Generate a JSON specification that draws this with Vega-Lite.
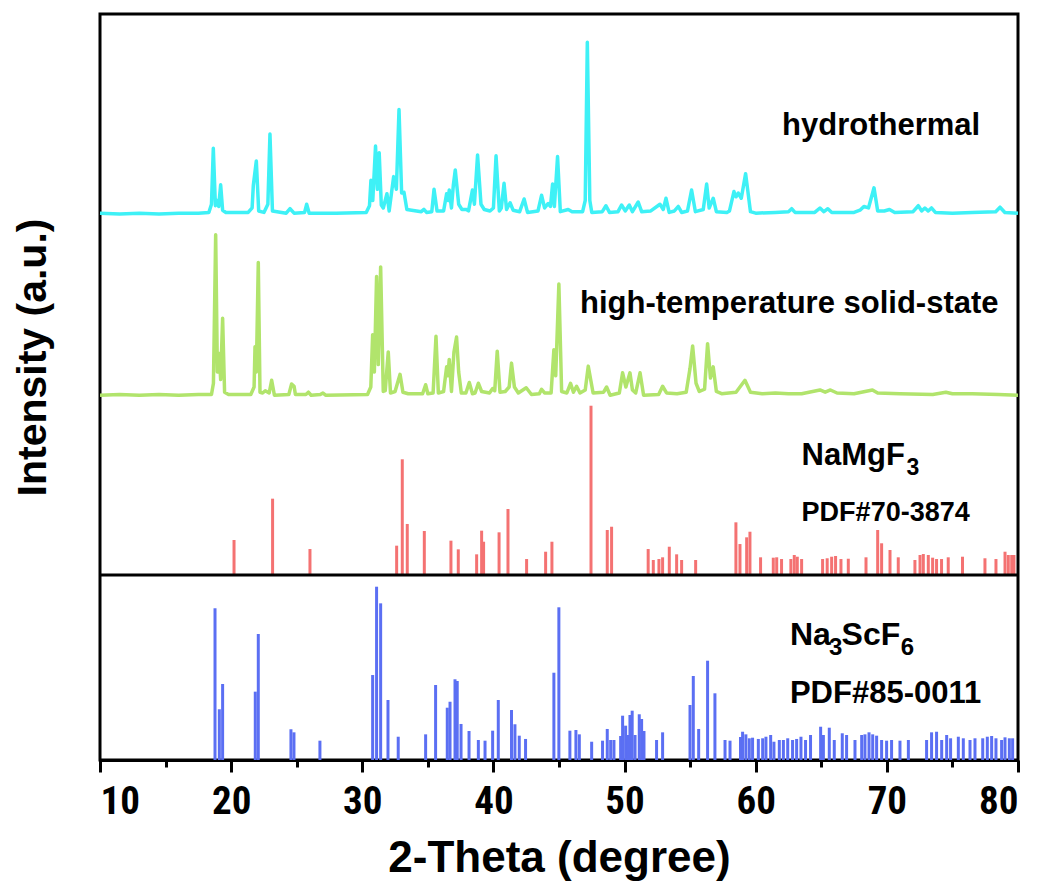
{
"$schema": "https://vega.github.io/schema/vega-lite/v6.json",
"width": 918, "height": 746,
"autosize": {"type": "none"},
"padding": {"left": 100, "top": 14, "right": 21, "bottom": 121},
"background": "white",
"config": {
  "view": {"stroke": "black", "strokeWidth": 3},
  "font": "Liberation Sans",
  "axis": {"grid": false, "domainColor": "black", "domainWidth": 3, "tickColor": "black", "tickWidth": 3, "labelColor": "black", "titleColor": "black"}
},
"datasets": {
"hydrothermal": [
{"two_theta":10.0,"intensity":73.3},{"two_theta":11.5,"intensity":73.2},{"two_theta":13.0,"intensity":73.3},{"two_theta":14.5,"intensity":73.2},{"two_theta":16.0,"intensity":73.3},{"two_theta":17.5,"intensity":73.3},{"two_theta":18.3,"intensity":73.4},{"two_theta":18.5,"intensity":74.5},{"two_theta":18.64,"intensity":82.0},{"two_theta":18.8,"intensity":74.3},{"two_theta":18.95,"intensity":75.0},{"two_theta":19.05,"intensity":74.2},{"two_theta":19.2,"intensity":77.1},{"two_theta":19.35,"intensity":73.7},{"two_theta":19.6,"intensity":73.4},{"two_theta":21.3,"intensity":73.4},{"two_theta":21.6,"intensity":74.0},{"two_theta":21.69,"intensity":77.0},{"two_theta":21.92,"intensity":80.3},{"two_theta":22.1,"intensity":73.6},{"two_theta":22.5,"intensity":73.4},{"two_theta":22.8,"intensity":74.5},{"two_theta":22.96,"intensity":83.9},{"two_theta":23.15,"intensity":73.6},{"two_theta":24.2,"intensity":73.3},{"two_theta":24.49,"intensity":73.9},{"two_theta":24.8,"intensity":73.3},{"two_theta":25.6,"intensity":73.4},{"two_theta":25.76,"intensity":74.5},{"two_theta":25.95,"intensity":73.3},{"two_theta":28.0,"intensity":73.3},{"two_theta":30.3,"intensity":73.4},{"two_theta":30.55,"intensity":74.3},{"two_theta":30.66,"intensity":77.7},{"two_theta":30.8,"intensity":75.0},{"two_theta":31.01,"intensity":82.3},{"two_theta":31.15,"intensity":76.5},{"two_theta":31.29,"intensity":81.4},{"two_theta":31.45,"intensity":74.4},{"two_theta":31.6,"intensity":74.0},{"two_theta":31.88,"intensity":75.9},{"two_theta":32.05,"intensity":73.6},{"two_theta":32.39,"intensity":78.2},{"two_theta":32.6,"intensity":76.5},{"two_theta":32.8,"intensity":87.2},{"two_theta":33.0,"intensity":76.0},{"two_theta":33.18,"intensity":76.1},{"two_theta":33.4,"intensity":73.8},{"two_theta":34.5,"intensity":73.5},{"two_theta":34.7,"intensity":73.8},{"two_theta":34.9,"intensity":73.4},{"two_theta":35.3,"intensity":73.5},{"two_theta":35.47,"intensity":76.5},{"two_theta":35.7,"intensity":73.6},{"two_theta":36.2,"intensity":73.6},{"two_theta":36.43,"intensity":75.9},{"two_theta":36.55,"intensity":75.0},{"two_theta":36.63,"intensity":76.4},{"two_theta":36.8,"intensity":74.0},{"two_theta":36.94,"intensity":77.0},{"two_theta":37.09,"intensity":79.1},{"two_theta":37.35,"intensity":74.5},{"two_theta":37.6,"intensity":73.8},{"two_theta":37.94,"intensity":73.8},{"two_theta":38.1,"intensity":73.6},{"two_theta":38.4,"intensity":76.4},{"two_theta":38.55,"intensity":74.5},{"two_theta":38.79,"intensity":81.1},{"two_theta":39.05,"intensity":74.5},{"two_theta":39.3,"intensity":73.8},{"two_theta":39.74,"intensity":73.6},{"two_theta":40.0,"intensity":74.0},{"two_theta":40.2,"intensity":81.0},{"two_theta":40.45,"intensity":73.6},{"two_theta":40.6,"intensity":74.0},{"two_theta":40.81,"intensity":77.3},{"two_theta":41.0,"intensity":73.8},{"two_theta":41.27,"intensity":74.7},{"two_theta":41.5,"intensity":73.7},{"two_theta":42.0,"intensity":73.5},{"two_theta":42.34,"intensity":75.2},{"two_theta":42.6,"intensity":73.4},{"two_theta":43.4,"intensity":73.6},{"two_theta":43.67,"intensity":75.7},{"two_theta":43.9,"intensity":74.0},{"two_theta":44.18,"intensity":74.6},{"two_theta":44.35,"intensity":74.2},{"two_theta":44.51,"intensity":77.2},{"two_theta":44.65,"intensity":74.2},{"two_theta":44.89,"intensity":80.9},{"two_theta":45.1,"intensity":73.5},{"two_theta":45.7,"intensity":73.8},{"two_theta":46.0,"intensity":73.5},{"two_theta":46.8,"intensity":73.5},{"two_theta":47.0,"intensity":75.0},{"two_theta":47.16,"intensity":96.2},{"two_theta":47.35,"intensity":75.0},{"two_theta":47.5,"intensity":73.4},{"two_theta":48.3,"intensity":73.5},{"two_theta":48.58,"intensity":74.3},{"two_theta":48.85,"intensity":73.4},{"two_theta":49.5,"intensity":73.5},{"two_theta":49.77,"intensity":74.4},{"two_theta":50.05,"intensity":73.6},{"two_theta":50.36,"intensity":74.4},{"two_theta":50.6,"intensity":73.5},{"two_theta":51.04,"intensity":74.8},{"two_theta":51.3,"intensity":73.5},{"two_theta":52.0,"intensity":73.6},{"two_theta":52.7,"intensity":74.5},{"two_theta":52.95,"intensity":73.8},{"two_theta":53.16,"intensity":75.3},{"two_theta":53.4,"intensity":73.4},{"two_theta":53.8,"intensity":73.6},{"two_theta":54.1,"intensity":74.2},{"two_theta":54.35,"intensity":73.4},{"two_theta":54.8,"intensity":73.6},{"two_theta":55.11,"intensity":76.4},{"two_theta":55.4,"intensity":73.5},{"two_theta":56.0,"intensity":73.8},{"two_theta":56.26,"intensity":77.2},{"two_theta":56.45,"intensity":74.0},{"two_theta":56.76,"intensity":75.3},{"two_theta":57.0,"intensity":73.5},{"two_theta":57.8,"intensity":73.4},{"two_theta":58.0,"intensity":73.6},{"two_theta":58.34,"intensity":76.2},{"two_theta":58.5,"intensity":75.5},{"two_theta":58.67,"intensity":76.0},{"two_theta":58.9,"intensity":75.3},{"two_theta":59.23,"intensity":78.6},{"two_theta":59.6,"intensity":73.5},{"two_theta":60.0,"intensity":73.3},{"two_theta":61.5,"intensity":73.4},{"two_theta":62.5,"intensity":73.5},{"two_theta":62.74,"intensity":73.9},{"two_theta":63.0,"intensity":73.4},{"two_theta":64.5,"intensity":73.4},{"two_theta":64.9,"intensity":74.0},{"two_theta":65.2,"intensity":73.5},{"two_theta":65.5,"intensity":73.9},{"two_theta":65.8,"intensity":73.4},{"two_theta":67.5,"intensity":73.4},{"two_theta":67.95,"intensity":73.7},{"two_theta":68.25,"intensity":74.2},{"two_theta":68.6,"intensity":74.0},{"two_theta":69.02,"intensity":76.7},{"two_theta":69.3,"intensity":73.6},{"two_theta":69.8,"intensity":73.6},{"two_theta":70.2,"intensity":73.8},{"two_theta":70.6,"intensity":73.4},{"two_theta":72.0,"intensity":73.5},{"two_theta":72.4,"intensity":74.3},{"two_theta":72.65,"intensity":73.6},{"two_theta":72.9,"intensity":74.0},{"two_theta":73.15,"intensity":73.6},{"two_theta":73.4,"intensity":74.0},{"two_theta":73.7,"intensity":73.4},{"two_theta":75.0,"intensity":73.3},{"two_theta":76.5,"intensity":73.4},{"two_theta":78.3,"intensity":73.5},{"two_theta":78.63,"intensity":74.1},{"two_theta":79.0,"intensity":73.4},{"two_theta":80.0,"intensity":73.3}
],
"solid_state": [
{"two_theta":10.0,"intensity":48.9},{"two_theta":11.5,"intensity":49.0},{"two_theta":13.0,"intensity":48.9},{"two_theta":14.5,"intensity":49.0},{"two_theta":16.0,"intensity":48.9},{"two_theta":17.5,"intensity":49.0},{"two_theta":18.5,"intensity":49.0},{"two_theta":18.65,"intensity":50.5},{"two_theta":18.82,"intensity":70.4},{"two_theta":18.95,"intensity":52.0},{"two_theta":19.09,"intensity":54.5},{"two_theta":19.2,"intensity":51.0},{"two_theta":19.35,"intensity":59.2},{"two_theta":19.5,"intensity":49.3},{"two_theta":19.8,"intensity":49.0},{"two_theta":21.5,"intensity":49.0},{"two_theta":21.75,"intensity":50.0},{"two_theta":21.82,"intensity":55.4},{"two_theta":21.92,"intensity":52.0},{"two_theta":22.07,"intensity":66.7},{"two_theta":22.2,"intensity":49.3},{"two_theta":22.4,"intensity":49.2},{"two_theta":22.6,"intensity":49.5},{"two_theta":22.9,"intensity":49.2},{"two_theta":23.09,"intensity":50.9},{"two_theta":23.3,"intensity":48.9},{"two_theta":24.4,"intensity":49.0},{"two_theta":24.61,"intensity":50.4},{"two_theta":24.8,"intensity":50.1},{"two_theta":24.9,"intensity":49.0},{"two_theta":25.7,"intensity":49.0},{"two_theta":25.89,"intensity":49.3},{"two_theta":26.1,"intensity":48.9},{"two_theta":26.8,"intensity":49.0},{"two_theta":27.0,"intensity":49.2},{"two_theta":27.2,"intensity":48.9},{"two_theta":30.4,"intensity":49.0},{"two_theta":30.65,"intensity":50.0},{"two_theta":30.79,"intensity":57.0},{"two_theta":30.92,"intensity":52.0},{"two_theta":31.09,"intensity":64.8},{"two_theta":31.22,"intensity":53.0},{"two_theta":31.4,"intensity":66.1},{"two_theta":31.6,"intensity":49.4},{"two_theta":31.75,"intensity":49.5},{"two_theta":31.98,"intensity":54.7},{"two_theta":32.15,"intensity":49.2},{"two_theta":32.5,"intensity":49.4},{"two_theta":32.88,"intensity":51.7},{"two_theta":33.1,"intensity":49.3},{"two_theta":33.5,"intensity":49.1},{"two_theta":34.6,"intensity":49.1},{"two_theta":34.83,"intensity":50.3},{"two_theta":35.0,"intensity":49.1},{"two_theta":35.4,"intensity":49.2},{"two_theta":35.62,"intensity":56.8},{"two_theta":35.8,"intensity":49.2},{"two_theta":36.2,"intensity":49.4},{"two_theta":36.43,"intensity":52.7},{"two_theta":36.53,"intensity":51.5},{"two_theta":36.63,"intensity":53.7},{"two_theta":36.8,"intensity":49.4},{"two_theta":36.99,"intensity":54.7},{"two_theta":37.19,"intensity":56.7},{"two_theta":37.35,"intensity":52.0},{"two_theta":37.55,"intensity":49.2},{"two_theta":37.9,"intensity":49.2},{"two_theta":38.16,"intensity":50.6},{"two_theta":38.4,"intensity":49.1},{"two_theta":38.6,"intensity":49.2},{"two_theta":38.85,"intensity":50.5},{"two_theta":39.1,"intensity":49.4},{"two_theta":39.7,"intensity":49.2},{"two_theta":39.94,"intensity":49.8},{"two_theta":40.1,"intensity":49.5},{"two_theta":40.29,"intensity":54.8},{"two_theta":40.5,"intensity":49.3},{"two_theta":40.9,"intensity":49.4},{"two_theta":41.2,"intensity":50.0},{"two_theta":41.38,"intensity":53.2},{"two_theta":41.6,"intensity":50.0},{"two_theta":41.9,"intensity":49.2},{"two_theta":42.5,"intensity":49.9},{"two_theta":42.9,"intensity":49.0},{"two_theta":43.5,"intensity":49.1},{"two_theta":43.67,"intensity":49.7},{"two_theta":43.9,"intensity":49.2},{"two_theta":44.4,"intensity":49.2},{"two_theta":44.61,"intensity":55.0},{"two_theta":44.75,"intensity":51.5},{"two_theta":44.99,"intensity":63.8},{"two_theta":45.2,"intensity":49.4},{"two_theta":45.6,"intensity":49.2},{"two_theta":45.88,"intensity":50.5},{"two_theta":46.1,"intensity":49.3},{"two_theta":46.34,"intensity":50.1},{"two_theta":46.6,"intensity":49.2},{"two_theta":47.0,"intensity":49.6},{"two_theta":47.23,"intensity":52.8},{"two_theta":47.6,"intensity":49.2},{"two_theta":48.4,"intensity":49.3},{"two_theta":48.63,"intensity":50.0},{"two_theta":48.9,"intensity":48.9},{"two_theta":49.6,"intensity":49.2},{"two_theta":49.85,"intensity":51.9},{"two_theta":50.1,"intensity":50.0},{"two_theta":50.41,"intensity":51.9},{"two_theta":50.6,"intensity":49.6},{"two_theta":50.85,"intensity":49.2},{"two_theta":51.18,"intensity":51.9},{"two_theta":51.45,"intensity":48.9},{"two_theta":52.6,"intensity":49.0},{"two_theta":52.9,"intensity":50.1},{"two_theta":53.2,"intensity":49.2},{"two_theta":54.0,"intensity":49.1},{"two_theta":54.7,"intensity":49.3},{"two_theta":54.99,"intensity":52.5},{"two_theta":55.19,"intensity":55.5},{"two_theta":55.45,"intensity":50.5},{"two_theta":55.7,"intensity":49.4},{"two_theta":56.1,"intensity":49.7},{"two_theta":56.33,"intensity":55.8},{"two_theta":56.55,"intensity":51.2},{"two_theta":56.76,"intensity":52.7},{"two_theta":57.0,"intensity":49.4},{"two_theta":57.4,"intensity":49.1},{"two_theta":58.5,"intensity":49.3},{"two_theta":59.18,"intensity":50.9},{"two_theta":59.6,"intensity":49.3},{"two_theta":60.5,"intensity":49.1},{"two_theta":61.5,"intensity":49.2},{"two_theta":62.5,"intensity":49.1},{"two_theta":63.5,"intensity":49.1},{"two_theta":64.9,"intensity":49.6},{"two_theta":65.3,"intensity":49.3},{"two_theta":65.7,"intensity":49.6},{"two_theta":66.2,"intensity":49.2},{"two_theta":67.5,"intensity":49.1},{"two_theta":68.9,"intensity":49.6},{"two_theta":69.3,"intensity":49.2},{"two_theta":71.0,"intensity":49.1},{"two_theta":73.5,"intensity":49.0},{"two_theta":74.5,"intensity":49.3},{"two_theta":75.0,"intensity":49.1},{"two_theta":76.5,"intensity":49.1},{"two_theta":78.5,"intensity":49.0},{"two_theta":80.0,"intensity":48.9}
],
"namgf3": [
{"two_theta":20.22,"intensity":29.49},{"two_theta":23.16,"intensity":35.03},{"two_theta":26.01,"intensity":28.28},{"two_theta":32.62,"intensity":28.73},{"two_theta":33.05,"intensity":40.31},{"two_theta":33.43,"intensity":31.64},{"two_theta":34.73,"intensity":30.7},{"two_theta":36.76,"intensity":29.4},{"two_theta":37.32,"intensity":28.24},{"two_theta":38.72,"intensity":27.57},{"two_theta":39.1,"intensity":30.74},{"two_theta":39.25,"intensity":29.26},{"two_theta":40.43,"intensity":30.52},{"two_theta":41.11,"intensity":33.65},{"two_theta":42.53,"intensity":26.94},{"two_theta":43.98,"intensity":27.92},{"two_theta":44.46,"intensity":29.26},{"two_theta":47.44,"intensity":47.49},{"two_theta":48.68,"intensity":30.83},{"two_theta":49.01,"intensity":31.27},{"two_theta":51.8,"intensity":28.28},{"two_theta":52.19,"intensity":26.81},{"two_theta":52.62,"intensity":26.94},{"two_theta":52.9,"intensity":27.17},{"two_theta":53.41,"intensity":28.59},{"two_theta":53.97,"intensity":27.57},{"two_theta":54.35,"intensity":26.81},{"two_theta":55.42,"intensity":26.81},{"two_theta":58.49,"intensity":31.86},{"two_theta":58.8,"intensity":28.95},{"two_theta":59.31,"intensity":29.85},{"two_theta":59.56,"intensity":30.6},{"two_theta":60.37,"intensity":27.17},{"two_theta":61.34,"intensity":27.12},{"two_theta":61.6,"intensity":27.17},{"two_theta":61.97,"intensity":26.94},{"two_theta":62.68,"intensity":26.94},{"two_theta":62.94,"intensity":27.48},{"two_theta":63.17,"intensity":27.25},{"two_theta":63.5,"intensity":26.94},{"two_theta":65.1,"intensity":26.94},{"two_theta":65.45,"intensity":27.04},{"two_theta":65.79,"intensity":27.25},{"two_theta":66.09,"intensity":27.35},{"two_theta":66.5,"intensity":26.94},{"two_theta":67.06,"intensity":26.98},{"two_theta":68.41,"intensity":27.17},{"two_theta":69.3,"intensity":30.83},{"two_theta":69.6,"intensity":29.05},{"two_theta":70.24,"intensity":28.15},{"two_theta":70.87,"intensity":27.17},{"two_theta":72.14,"intensity":26.81},{"two_theta":72.53,"intensity":27.48},{"two_theta":72.78,"intensity":27.61},{"two_theta":73.16,"intensity":27.48},{"two_theta":73.49,"intensity":27.12},{"two_theta":73.79,"intensity":26.94},{"two_theta":74.17,"intensity":26.94},{"two_theta":74.68,"intensity":27.17},{"two_theta":75.77,"intensity":27.25},{"two_theta":77.48,"intensity":27.04},{"two_theta":78.32,"intensity":26.94},{"two_theta":79.01,"intensity":27.92},{"two_theta":79.26,"intensity":27.48},{"two_theta":79.52,"intensity":27.48},{"two_theta":79.69,"intensity":27.48}
],
"na3scf6": [
{"two_theta":18.77,"intensity":20.34},{"two_theta":19.1,"intensity":6.8},{"two_theta":19.35,"intensity":10.19},{"two_theta":21.84,"intensity":9.16},{"two_theta":22.07,"intensity":16.89},{"two_theta":24.56,"intensity":4.12},{"two_theta":24.79,"intensity":3.71},{"two_theta":26.77,"intensity":2.59},{"two_theta":30.79,"intensity":11.39},{"two_theta":31.09,"intensity":23.23},{"two_theta":31.4,"intensity":21.0},{"two_theta":31.96,"intensity":8.04},{"two_theta":32.74,"intensity":3.12},{"two_theta":34.83,"intensity":3.44},{"two_theta":35.59,"intensity":10.05},{"two_theta":36.48,"intensity":7.01},{"two_theta":36.69,"intensity":7.81},{"two_theta":37.07,"intensity":10.82},{"two_theta":37.24,"intensity":10.59},{"two_theta":37.53,"intensity":4.83},{"two_theta":38.14,"intensity":3.89},{"two_theta":38.85,"intensity":2.68},{"two_theta":39.36,"intensity":2.59},{"two_theta":39.94,"intensity":3.93},{"two_theta":40.37,"intensity":8.04},{"two_theta":41.38,"intensity":6.7},{"two_theta":41.64,"intensity":4.79},{"two_theta":41.97,"intensity":3.26},{"two_theta":42.45,"intensity":2.82},{"two_theta":44.61,"intensity":11.7},{"two_theta":44.99,"intensity":20.47},{"two_theta":45.83,"intensity":3.93},{"two_theta":46.29,"intensity":4.02},{"two_theta":46.55,"intensity":3.44},{"two_theta":47.49,"intensity":2.45},{"two_theta":48.32,"intensity":2.59},{"two_theta":48.68,"intensity":4.16},{"two_theta":48.94,"intensity":2.68},{"two_theta":49.19,"intensity":2.68},{"two_theta":49.7,"intensity":3.22},{"two_theta":49.85,"intensity":5.94},{"two_theta":50.08,"intensity":4.6},{"two_theta":50.28,"intensity":3.35},{"two_theta":50.41,"intensity":6.03},{"two_theta":50.58,"intensity":6.61},{"two_theta":50.8,"intensity":3.35},{"two_theta":51.12,"intensity":6.13},{"two_theta":51.3,"intensity":5.5},{"two_theta":51.48,"intensity":3.89},{"two_theta":52.44,"intensity":2.68},{"two_theta":52.9,"intensity":3.71},{"two_theta":54.99,"intensity":7.37},{"two_theta":55.24,"intensity":11.26},{"two_theta":55.65,"intensity":4.16},{"two_theta":56.33,"intensity":13.31},{"two_theta":56.89,"intensity":8.94},{"two_theta":57.66,"intensity":2.68},{"two_theta":58.04,"intensity":2.59},{"two_theta":58.84,"intensity":3.08},{"two_theta":59.0,"intensity":3.79},{"two_theta":59.25,"intensity":3.44},{"two_theta":59.51,"intensity":2.91},{"two_theta":59.76,"intensity":2.99},{"two_theta":60.2,"intensity":2.82},{"two_theta":60.53,"intensity":2.91},{"two_theta":60.78,"intensity":3.12},{"two_theta":61.14,"intensity":3.35},{"two_theta":61.39,"intensity":2.45},{"two_theta":61.8,"intensity":2.68},{"two_theta":62.11,"intensity":2.68},{"two_theta":62.44,"intensity":2.91},{"two_theta":62.81,"intensity":2.68},{"two_theta":63.12,"intensity":2.82},{"two_theta":63.45,"intensity":3.12},{"two_theta":63.8,"intensity":2.68},{"two_theta":64.18,"intensity":3.35},{"two_theta":64.95,"intensity":4.46},{"two_theta":65.16,"intensity":3.35},{"two_theta":65.61,"intensity":4.33},{"two_theta":65.99,"intensity":2.68},{"two_theta":66.6,"intensity":3.58},{"two_theta":66.93,"intensity":3.35},{"two_theta":67.57,"intensity":2.68},{"two_theta":68.08,"intensity":3.35},{"two_theta":68.33,"intensity":3.44},{"two_theta":68.64,"intensity":3.71},{"two_theta":68.92,"intensity":3.44},{"two_theta":69.22,"intensity":3.26},{"two_theta":69.6,"intensity":2.68},{"two_theta":69.98,"intensity":2.59},{"two_theta":70.36,"intensity":2.68},{"two_theta":71.0,"intensity":2.59},{"two_theta":71.64,"intensity":2.68},{"two_theta":73.03,"intensity":2.68},{"two_theta":73.41,"intensity":3.71},{"two_theta":73.79,"intensity":3.79},{"two_theta":74.18,"intensity":2.68},{"two_theta":74.56,"intensity":3.35},{"two_theta":74.86,"intensity":2.91},{"two_theta":75.45,"intensity":3.12},{"two_theta":75.83,"intensity":2.91},{"two_theta":76.34,"intensity":2.68},{"two_theta":76.72,"intensity":2.91},{"two_theta":77.31,"intensity":2.91},{"two_theta":77.66,"intensity":3.12},{"two_theta":77.99,"intensity":3.22},{"two_theta":78.32,"intensity":2.91},{"two_theta":78.75,"intensity":2.68},{"two_theta":79.01,"intensity":3.04},{"two_theta":79.34,"intensity":2.91},{"two_theta":79.59,"intensity":2.91}
]
},
"layer": [
{
  "data": {"name": "hydrothermal"},
  "mark": {"type": "line", "color": "#3EF1F6", "strokeWidth": 3.5, "strokeJoin": "round"},
  "encoding": {
    "x": {"field": "two_theta", "type": "quantitative", "scale": {"domain": [10, 80], "nice": false, "zero": false},
      "axis": {"orient": "bottom", "values": [10, 20, 30, 40, 50, 60, 70, 80], "tickSize": 12, "labelPadding": 10,
        "labelFont": "Liberation Sans Narrow, Arial Narrow, Roboto Condensed, DejaVu Sans Condensed, Liberation Sans", "labelFontSize": 39, "labelFontWeight": "bold",
        "title": "2-Theta (degree)", "titleFont": "Liberation Sans", "titleFontSize": 44, "titleFontWeight": "bold",
        "titleX": 459, "titleY": 111, "titleAlign": "center", "titleBaseline": "alphabetic"}},
    "y": {"field": "intensity", "type": "quantitative", "scale": {"domain": [0, 100], "nice": false, "zero": false},
      "axis": {"title": "Intensity (a.u.)", "labels": false, "ticks": false, "domain": false,
        "titleFont": "Liberation Sans", "titleFontSize": 41, "titleFontWeight": "bold",
        "titleAngle": 270, "titleX": -67, "titleY": 343, "titleAlign": "center", "titleBaseline": "middle"}}
  }
},
{
  "data": {"name": "solid_state"},
  "mark": {"type": "line", "color": "#B1E46C", "strokeWidth": 3.5, "strokeJoin": "round"},
  "encoding": {
    "x": {"field": "two_theta", "type": "quantitative", "axis": null},
    "y": {"field": "intensity", "type": "quantitative", "axis": null}
  }
},
{
  "data": {"name": "namgf3"},
  "mark": {"type": "rule", "color": "#F47272", "strokeWidth": 3},
  "encoding": {
    "x": {"field": "two_theta", "type": "quantitative", "axis": null},
    "y": {"field": "intensity", "type": "quantitative", "axis": null},
    "y2": {"datum": 24.8}
  }
},
{
  "data": {"name": "na3scf6"},
  "mark": {"type": "rule", "color": "#5B6FF3", "strokeWidth": 3},
  "encoding": {
    "x": {"field": "two_theta", "type": "quantitative",
      "axis": {"orient": "bottom", "values": [15, 25, 35, 45, 55, 65, 75], "tickSize": 7, "labels": false, "domain": false, "title": null}},
    "y": {"field": "intensity", "type": "quantitative", "axis": null},
    "y2": {"datum": 0}
  }
},
{
  "data": {"values": [{}]},
  "mark": {"type": "rule", "color": "black", "strokeWidth": 3},
  "encoding": {"y": {"datum": 24.8, "type": "quantitative", "axis": null}}
},
{
  "data": {"values": [{}]},
  "mark": {"type": "text", "text": "hydrothermal", "font": "Liberation Sans", "fontSize": 31, "fontWeight": "bold", "align": "left", "baseline": "alphabetic", "color": "black"},
  "encoding": {"x": {"datum": 62.01, "type": "quantitative", "axis": null}, "y": {"datum": 83.78, "type": "quantitative", "axis": null}}
},
{
  "data": {"values": [{}]},
  "mark": {"type": "text", "text": "high-temperature solid-state", "font": "Liberation Sans", "fontSize": 31, "fontWeight": "bold", "align": "left", "baseline": "alphabetic", "color": "black"},
  "encoding": {"x": {"datum": 46.6, "type": "quantitative", "axis": null}, "y": {"datum": 59.92, "type": "quantitative", "axis": null}}
},
{
  "data": {"values": [{}]},
  "mark": {"type": "text", "text": "NaMgF", "font": "Liberation Sans", "fontSize": 31, "fontWeight": "bold", "align": "left", "baseline": "alphabetic", "color": "black"},
  "encoding": {"x": {"datum": 63.5, "type": "quantitative", "axis": null}, "y": {"datum": 39.54, "type": "quantitative", "axis": null}}
},
{
  "data": {"values": [{}]},
  "mark": {"type": "text", "text": "3", "font": "Liberation Sans", "fontSize": 23, "fontWeight": "bold", "align": "left", "baseline": "alphabetic", "color": "black"},
  "encoding": {"x": {"datum": 71.5, "type": "quantitative", "axis": null}, "y": {"datum": 38.2, "type": "quantitative", "axis": null}}
},
{
  "data": {"values": [{}]},
  "mark": {"type": "text", "text": "PDF#70-3874", "font": "Liberation Sans", "fontSize": 27, "fontWeight": "bold", "align": "left", "baseline": "alphabetic", "color": "black"},
  "encoding": {"x": {"datum": 63.5, "type": "quantitative", "axis": null}, "y": {"datum": 32.08, "type": "quantitative", "axis": null}}
},
{
  "data": {"values": [{}]},
  "mark": {"type": "text", "text": "Na", "font": "Liberation Sans", "fontSize": 32, "fontWeight": "bold", "align": "left", "baseline": "alphabetic", "color": "black"},
  "encoding": {"x": {"datum": 62.61, "type": "quantitative", "axis": null}, "y": {"datum": 15.42, "type": "quantitative", "axis": null}}
},
{
  "data": {"values": [{}]},
  "mark": {"type": "text", "text": "3", "font": "Liberation Sans", "fontSize": 24, "fontWeight": "bold", "align": "left", "baseline": "alphabetic", "color": "black"},
  "encoding": {"x": {"datum": 65.59, "type": "quantitative", "axis": null}, "y": {"datum": 14.08, "type": "quantitative", "axis": null}}
},
{
  "data": {"values": [{}]},
  "mark": {"type": "text", "text": "ScF", "font": "Liberation Sans", "fontSize": 32, "fontWeight": "bold", "align": "left", "baseline": "alphabetic", "color": "black"},
  "encoding": {"x": {"datum": 66.55, "type": "quantitative", "axis": null}, "y": {"datum": 15.42, "type": "quantitative", "axis": null}}
},
{
  "data": {"values": [{}]},
  "mark": {"type": "text", "text": "6", "font": "Liberation Sans", "fontSize": 24, "fontWeight": "bold", "align": "left", "baseline": "alphabetic", "color": "black"},
  "encoding": {"x": {"datum": 71.06, "type": "quantitative", "axis": null}, "y": {"datum": 14.08, "type": "quantitative", "axis": null}}
},
{
  "data": {"values": [{}]},
  "mark": {"type": "text", "text": "PDF#85-0011", "font": "Liberation Sans", "fontSize": 31, "fontWeight": "bold", "align": "left", "baseline": "alphabetic", "color": "black"},
  "encoding": {"x": {"datum": 62.61, "type": "quantitative", "axis": null}, "y": {"datum": 7.6, "type": "quantitative", "axis": null}}
}
],
"resolve": {"axis": {"x": "independent", "y": "independent"}}
}
